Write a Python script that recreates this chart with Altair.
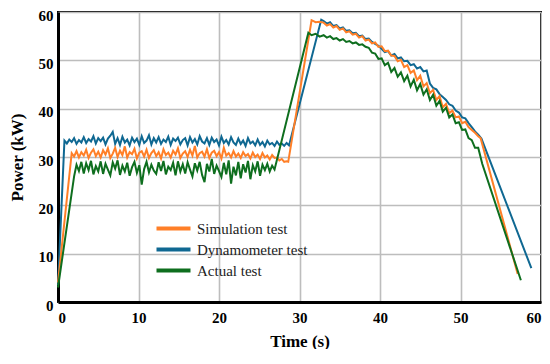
import altair as alt
import pandas as pd

# ---- shared time grids (s) ----
T_FLAT = [0.8, 1.1, 1.4, 1.7, 2.0, 2.3, 2.6, 2.9, 3.2, 3.5, 3.8, 4.1, 4.4, 4.7, 5.0, 5.3,
          5.6, 5.9, 6.2, 6.5, 6.8, 7.1, 7.4, 7.7, 8.0, 8.3, 8.6, 8.9, 9.2, 9.5, 9.8, 10.1,
          10.4, 10.7, 11.0, 11.3, 11.6, 11.9, 12.2, 12.5, 12.8, 13.1, 13.4, 13.7, 14.0,
          14.3, 14.6, 14.9, 15.2, 15.5, 15.8, 16.1, 16.4, 16.7, 17.0, 17.3, 17.6, 17.9,
          18.2, 18.5, 18.8, 19.1, 19.4, 19.7, 20.0, 20.3, 20.6, 20.9, 21.2, 21.5, 21.8,
          22.1, 22.4, 22.7, 23.0, 23.3, 23.6, 23.9, 24.2, 24.5, 24.8, 25.1, 25.4, 25.7,
          26.0, 26.3, 26.6, 26.9, 27.2, 27.5, 27.8, 28.1, 28.4, 28.7]
T_DEC = [33.0, 33.4, 33.8, 34.2, 34.6, 35.0, 35.4, 35.8, 36.2, 36.6, 37.0, 37.4, 37.8,
         38.2, 38.6, 39.0, 39.4, 39.8, 40.2, 40.6, 41.0, 41.4, 41.8, 42.2, 42.6, 43.0,
         43.4, 43.8, 44.2, 44.6, 45.0, 45.4, 45.8, 46.2, 46.6, 47.0, 47.4, 47.8, 48.2,
         48.6, 49.0, 49.4, 49.8, 50.2, 50.6, 51.0, 51.4, 51.8, 52.2]

# ---- Dynamometer test (blue) ----
DYN_START_T = [0.0]
DYN_START_P = [3.5]
DYN_FLAT_FROM = 0
DYN_FLAT = [33.4, 32.8, 33.6, 33.1, 33.9, 32.7, 33.5, 33.0, 34.1, 32.9,
            33.7, 33.2, 34.3, 32.8, 33.9, 33.3, 34.0, 32.6, 33.8, 34.4,
            35.2, 32.7, 33.9, 32.5, 34.2, 33.0, 33.6, 32.4, 34.0, 33.1,
            33.8, 32.5, 34.3, 32.9, 33.4, 34.5, 32.6, 33.9, 33.0, 34.1,
            32.7, 33.6, 33.1, 34.2, 32.5, 33.8, 33.3, 34.0, 32.6, 33.5,
            33.9, 32.4, 34.1, 33.0, 33.7, 32.6, 34.3, 33.2, 32.8, 33.9,
            32.5, 34.0, 33.1, 33.6, 32.4, 34.2, 32.9, 33.5, 32.6, 34.1,
            33.0, 32.5, 33.8, 32.7, 33.4, 32.3, 33.9, 32.8, 33.2, 32.4,
            33.6, 32.5, 33.1, 32.2, 33.4, 32.6, 32.9, 32.3, 33.2, 32.5,
            32.8, 32.3, 32.9, 32.4]
DYN_MID_T = [32.7]
DYN_MID_P = [58.4]
DYN_DEC = [58.1, 57.6, 57.9, 57.1, 57.3, 56.6, 56.8, 56.1, 56.2, 55.6, 55.7, 55.0, 55.1,
           54.4, 54.5, 53.8, 53.4, 53.0, 52.4, 51.7, 51.9, 51.0, 51.3, 50.4, 50.6, 49.8,
           49.9, 49.0, 49.2, 48.3, 48.6, 47.7, 47.9, 45.2, 44.3, 44.0, 43.0, 42.4, 41.8,
           40.9, 40.6, 39.6, 39.2, 38.2, 38.0, 37.0, 36.2, 35.3, 34.6]
DYN_END_T = [52.6, 58.8]
DYN_END_P = [33.8, 7.0]

# ---- Simulation test (orange) ----
SIM_START_T = [0.0]
SIM_START_P = [4.0]
SIM_FLAT_FROM = 3
SIM_FLAT = [30.8, 30.1, 31.2, 29.9, 31.0, 30.3, 31.5, 29.8, 30.9, 31.6,
            30.2, 31.1, 29.9, 31.4, 30.5, 31.8, 29.8, 30.7, 31.9, 30.0,
            31.3, 30.4, 32.2, 29.9, 31.0, 30.6, 31.7, 29.7, 30.9, 31.2,
            30.1, 31.5, 29.8, 30.8, 31.4, 30.2, 31.0, 29.7, 31.6, 30.4,
            30.9, 29.9, 31.3, 30.5, 31.8, 29.8, 30.7, 31.2, 30.0, 31.5,
            30.3, 32.3, 29.9, 30.8, 31.1, 30.1, 31.6, 29.8, 30.9, 31.3,
            30.2, 31.0, 29.7, 31.9, 30.3, 30.8, 29.9, 31.2, 30.1, 30.7,
            29.8, 31.0, 30.2, 30.6, 29.7, 30.9, 30.0, 30.5, 29.6, 30.8,
            29.9, 30.3, 29.5, 30.4, 29.8, 29.9, 29.3, 29.6, 29.0, 29.1]
SIM_MID_T = [28.6, 31.5, 32.0, 32.5]
SIM_MID_P = [29.0, 58.3, 57.9, 58.0]
SIM_DEC = [57.8, 57.2, 57.5, 56.8, 57.1, 56.3, 56.6, 55.8, 56.0, 55.3, 55.5, 54.7, 55.0,
           54.1, 54.3, 53.5, 53.7, 52.8, 52.9, 51.9, 52.0, 51.0, 50.9, 49.8, 50.1, 48.6,
           49.0, 47.4, 47.9, 45.9, 46.8, 44.6, 45.3, 43.2, 43.9, 41.8, 42.6, 40.3, 41.0,
           39.1, 39.6, 38.2, 38.4, 37.0, 37.3, 36.2, 35.6, 35.0, 34.3]
SIM_END_T = [52.5, 57.1]
SIM_END_P = [33.9, 5.8]

# ---- Actual test (green) ----
ACT_START_T = [0.0]
ACT_START_P = [3.0]
ACT_FLAT_FROM = 4
ACT_FLAT = [26.0, 28.4, 27.1, 29.0, 26.6, 28.7, 27.3, 29.2, 26.4, 28.1,
            27.0, 29.1, 26.5, 28.6, 27.4, 26.2, 28.9, 27.6, 29.3, 26.3,
            28.2, 27.0, 28.8, 26.1, 27.9, 29.0, 26.7, 28.3, 24.3, 27.5,
            29.0, 26.8, 28.4, 27.2, 26.5, 28.9, 27.1, 29.2, 26.4, 28.0,
            27.3, 28.8, 26.2, 29.1, 27.0, 28.5, 26.6, 28.9, 27.4, 26.0,
            28.7, 27.2, 29.0, 26.3, 24.8, 28.6, 27.0, 29.6, 26.5, 28.2,
            27.1, 25.9, 28.8, 26.4, 29.3, 24.5, 28.0, 26.2, 29.0, 25.6,
            28.5, 26.8, 29.2, 25.4, 28.3, 27.0, 29.1, 26.1, 28.4, 27.3,
            28.6, 27.0, 28.2, 27.4]
ACT_MID_T = [31.1, 31.5, 32.0, 32.5]
ACT_MID_P = [55.7, 55.2, 55.5, 54.9]
ACT_DEC = [55.2, 54.7, 55.0, 54.4, 54.6, 54.1, 54.4, 53.8, 54.0, 53.5, 53.7, 53.2, 53.3,
           52.8, 52.6, 51.6, 51.4, 50.3, 50.4, 49.0, 49.5, 47.6, 48.4, 46.6, 47.5, 45.7,
           46.8, 44.6, 46.0, 43.8, 45.1, 42.9, 44.0, 41.8, 42.9, 40.6, 41.6, 39.4, 40.2,
           38.2, 38.8, 37.0, 37.2, 35.6, 35.7, 33.9, 33.5, 31.9, 31.9]
ACT_END_T = [52.7, 57.5]
ACT_END_P = [28.6, 4.5]

SERIES = ["Simulation test", "Dynamometer test", "Actual test"]
COLORS = ["#ff7f27", "#0f6892", "#0e6e1e"]
TICKS = [0, 10, 20, 30, 40, 50, 60]


def build(name, st, sp, ffrom, flat, mt, mp, dec, et, ep):
    t = list(st) + T_FLAT[ffrom:ffrom + len(flat)] + list(mt) + T_DEC[:len(dec)] + list(et)
    p = list(sp) + list(flat) + list(mp) + list(dec) + list(ep)
    return pd.DataFrame({"t": t, "p": p, "series": name, "i": range(len(t))})


df_sim = build("Simulation test", SIM_START_T, SIM_START_P, SIM_FLAT_FROM, SIM_FLAT,
               SIM_MID_T, SIM_MID_P, SIM_DEC, SIM_END_T, SIM_END_P)
df_dyn = build("Dynamometer test", DYN_START_T, DYN_START_P, DYN_FLAT_FROM, DYN_FLAT,
               DYN_MID_T, DYN_MID_P, DYN_DEC, DYN_END_T, DYN_END_P)
df_act = build("Actual test", ACT_START_T, ACT_START_P, ACT_FLAT_FROM, ACT_FLAT,
               ACT_MID_T, ACT_MID_P, ACT_DEC, ACT_END_T, ACT_END_P)

FONT = "'Liberation Serif', 'Times New Roman', serif"

x_enc = alt.X("t:Q", scale=alt.Scale(domain=[0, 60], nice=False),
              axis=alt.Axis(title="Time (s)", values=TICKS, titlePadding=8, labelPadding=8))
y_enc = alt.Y("p:Q", scale=alt.Scale(domain=[0, 60], nice=False),
              axis=alt.Axis(title="Power (kW)", values=TICKS, titlePadding=12,
                            labelPadding=5, labelOffset=3))
color_enc = alt.Color("series:N", scale=alt.Scale(domain=SERIES, range=COLORS),
                      legend=alt.Legend(title=None, orient="none", legendX=105, legendY=206,
                                        symbolType="M-2,0H2", symbolStrokeWidth=4,
                                        symbolSize=289, labelOffset=13, rowPadding=2))


def layer(df):
    return alt.Chart(df).mark_line(strokeWidth=2).encode(
        x=x_enc, y=y_enc, color=color_enc, order="i:Q")


chart = alt.layer(layer(df_dyn), layer(df_sim), layer(df_act)).properties(
    width=534, height=341,
    autosize=alt.AutoSizeParams(type="fit", contains="padding"),
    padding={"left": 0, "top": 0, "right": 0, "bottom": 0},
    background="white",
).configure_view(
    stroke="black", strokeWidth=2
).configure_axis(
    labelFont=FONT, labelFontSize=15, labelFontWeight="bold", labelColor="black",
    titleFont=FONT, titleFontSize=17, titleFontWeight="bold", titleColor="black",
    tickSize=0, domainColor="black", domainWidth=3, gridColor="#bdbdbd", gridWidth=1.6,
).configure_legend(
    labelFont=FONT, labelFontSize=15, labelColor="#222222",
)

chart.save("out.html", embed_options={"renderer": "svg", "actions": False})
